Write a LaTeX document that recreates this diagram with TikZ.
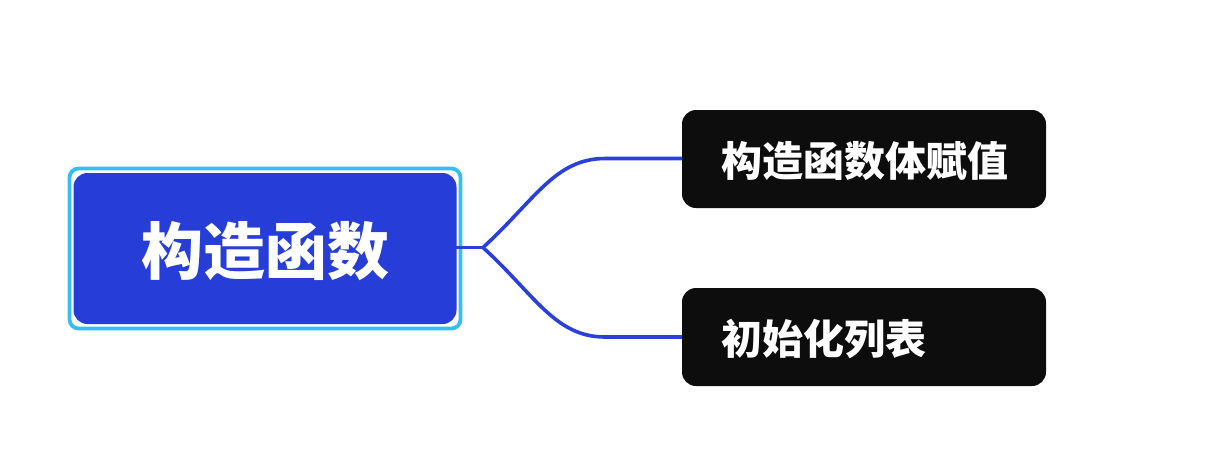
\documentclass[tikz,border=0pt]{standalone}
\usepackage{fontspec}
\newfontfamily\cjk{Noto Sans CJK SC}
\definecolor{mainblue}{HTML}{263DD8}
\definecolor{ringcyan}{HTML}{35BEF5}
\definecolor{boxblack}{HTML}{0D0D0D}
\definecolor{linkblue}{HTML}{2A40DA}
\tikzset{
  ring/.style={draw=ringcyan, line width=3.8pt, rounded corners=9pt, fill=white},
  mainbox/.style={fill=mainblue, rounded corners=14pt},
  leafbox/.style={fill=boxblack, rounded corners=14pt},
  maintext/.style={text=white, font=\cjk\bfseries\fontsize{62}{62}\selectfont, inner sep=0pt},
  leaftext/.style={text=white, font=\cjk\bfseries\fontsize{41}{41}\selectfont, inner sep=0pt, anchor=west},
  link/.style={draw=linkblue, line width=3.6pt}
}
\begin{document}
\begin{tikzpicture}[x=1pt,y=-1pt]
\useasboundingbox (0,0) rectangle (1218,472);
% main node
\draw[ring] (69.5,168.5) rectangle (460.5,328.5);
\fill[mainbox] (73.5,173) rectangle (456.5,324);
\node[maintext] (root) at (265,251) {构造函数};
\coordinate (rootE) at (456,247.5);
\coordinate (j) at (483,247.5);
% leaf boxes
\fill[leafbox] (682,110) rectangle (1046,208);
\fill[leafbox] (682,288) rectangle (1046,386);
\coordinate (aW) at (682,158.5);
\coordinate (bW) at (682,337);
\node[leaftext] (a) at (721,161) {构造函数体赋值};
\node[leaftext] (b) at (721,339) {初始化列表};
% connectors
\draw[link] (rootE) -- (j);
\draw[link, line join=round] (j) .. controls (535,200) and (555,158.5) .. (605,158.5) -- (aW);
\draw[link, line join=round] (j) .. controls (535,295) and (555,337) .. (605,337) -- (bW);
\end{tikzpicture}
\end{document}
